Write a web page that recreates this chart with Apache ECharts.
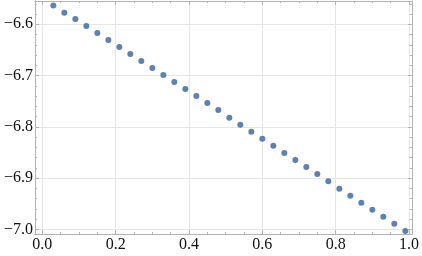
<!DOCTYPE html>
<html><head><meta charset="utf-8">
<script src="https://cdn.jsdelivr.net/npm/echarts@6/dist/echarts.min.js"></script>
<style>html,body{margin:0;padding:0;background:#fff}#c{width:422px;height:256px}</style>
</head><body><div id="c"></div>
<script>
const xValues = [0.03,0.06,0.09,0.12,0.15,0.18,0.21,0.24,0.27,0.30,0.33,0.36,0.39,0.42,0.45,0.48,0.51,0.54,0.57,0.60,0.63,0.66,0.69,0.72,0.75,0.78,0.81,0.84,0.87,0.90,0.93,0.96,0.99];
const yValues = [-6.5636,-6.5773,-6.5896,-6.6033,-6.6169,-6.6306,-6.6442,-6.6579,-6.6715,-6.6852,-6.6988,-6.7125,-6.7261,-6.7398,-6.7534,-6.7671,-6.7821,-6.7957,-6.8094,-6.8230,-6.8367,-6.8509,-6.8645,-6.8782,-6.8918,-6.9060,-6.9205,-6.9341,-6.9478,-6.9614,-6.9750,-6.9887,-7.0031];
const xTicks = [0,0.2,0.4,0.6,0.8,1.0];
const yTicks = [-7.0,-6.9,-6.8,-6.7,-6.6];
const xMinor = [0.05,0.1,0.15,0.25,0.3,0.35,0.45,0.5,0.55,0.65,0.7,0.75,0.85,0.9,0.95];
const yMinor = [-6.98,-6.96,-6.94,-6.92,-6.88,-6.86,-6.84,-6.82,-6.78,-6.76,-6.74,-6.72,-6.68,-6.66,-6.64,-6.62,-6.58,-6.56];

const data = xValues.map((x,i)=>[x,yValues[i]]);
const FONT = '"Liberation Serif","Times New Roman",serif';
const frame = '#b4b4b4';
const XMIN=-0.02, XMAX=1.008, YMIN=-7.0088, YMAX=-6.5546;
const fmt = v => { const s = Number(v).toFixed(1); return s.replace('-', '\u2212'); };

function xAx(pos, ticks, len, labels, grid){
  return {type:'value', min:XMIN, max:XMAX, position:pos,
    axisLine:{show:true, onZero:false, lineStyle:{color:frame,width:1}},
    axisTick:{show:true, inside:true, length:len, customValues:ticks, lineStyle:{color:frame}},
    axisLabel:{show:labels, customValues:xTicks, formatter:fmt, color:'#111', fontFamily:FONT, fontSize:16, margin:3},
    splitLine:{show:grid, lineStyle:{color:'#e6e6e6',width:1}}};
}
function yAx(pos, ticks, len, labels, grid){
  return {type:'value', min:YMIN, max:YMAX, position:pos,
    axisLine:{show:true, onZero:false, lineStyle:{color:frame,width:1}},
    axisTick:{show:true, inside:true, length:len, customValues:ticks, lineStyle:{color:frame}},
    axisLabel:{show:labels, customValues:yTicks, formatter:fmt, color:'#111', fontFamily:FONT, fontSize:16, margin:2},
    splitLine:{show:grid, lineStyle:{color:'#e6e6e6',width:1}}};
}
const chart = echarts.init(document.getElementById('c'), null, {renderer:'canvas'});
chart.setOption({
  animation:false,
  grid:{left:35, right:9, top:1, bottom:22, containLabel:false},
  xAxis:[xAx('bottom', xTicks, 4, true, true), xAx('bottom', xMinor, 2, false, false),
         xAx('top', xTicks, 4, false, false), xAx('top', xMinor, 2, false, false)],
  yAxis:[yAx('left', yTicks, 4, true, true), yAx('left', yMinor, 2, false, false),
         yAx('right', yTicks, 4, false, false), yAx('right', yMinor, 2, false, false)],
  series:[{type:'scatter', xAxisIndex:0, yAxisIndex:0, data:data, symbolSize:6,
    itemStyle:{color:'#5e81b5', opacity:1}}]
});
</script></body></html>
